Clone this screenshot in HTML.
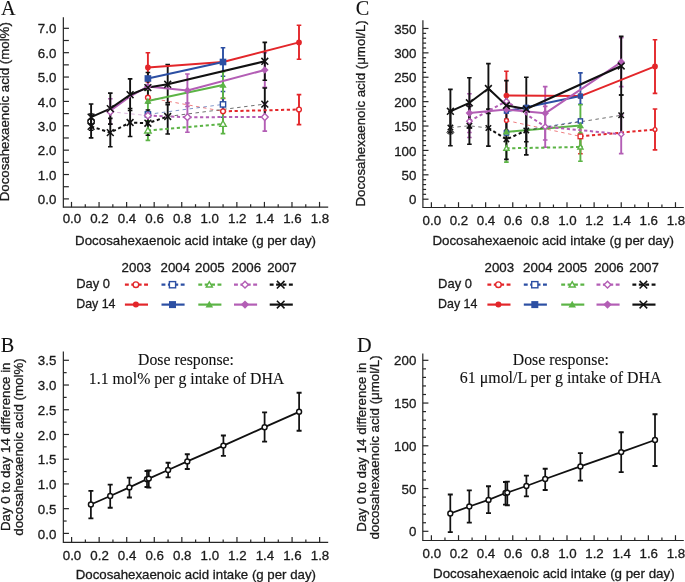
<!DOCTYPE html>
<html><head><meta charset="utf-8"><style>html,body{margin:0;padding:0;background:#fff;}svg{display:block;will-change:transform;}</style></head><body>
<svg width="685" height="582" viewBox="0 0 685 582">
<rect width="685" height="582" fill="#fff"/>
<line x1="63.35" y1="207.20" x2="328.20" y2="207.20" stroke="#262626" stroke-width="1.2" />
<line x1="71.50" y1="207.20" x2="71.50" y2="201.90" stroke="#262626" stroke-width="1.2" />
<line x1="85.28" y1="207.20" x2="85.28" y2="204.20" stroke="#262626" stroke-width="1.2" />
<line x1="99.06" y1="207.20" x2="99.06" y2="201.90" stroke="#262626" stroke-width="1.2" />
<line x1="112.84" y1="207.20" x2="112.84" y2="204.20" stroke="#262626" stroke-width="1.2" />
<line x1="126.62" y1="207.20" x2="126.62" y2="201.90" stroke="#262626" stroke-width="1.2" />
<line x1="140.40" y1="207.20" x2="140.40" y2="204.20" stroke="#262626" stroke-width="1.2" />
<line x1="154.18" y1="207.20" x2="154.18" y2="201.90" stroke="#262626" stroke-width="1.2" />
<line x1="167.96" y1="207.20" x2="167.96" y2="204.20" stroke="#262626" stroke-width="1.2" />
<line x1="181.74" y1="207.20" x2="181.74" y2="201.90" stroke="#262626" stroke-width="1.2" />
<line x1="195.52" y1="207.20" x2="195.52" y2="204.20" stroke="#262626" stroke-width="1.2" />
<line x1="209.30" y1="207.20" x2="209.30" y2="201.90" stroke="#262626" stroke-width="1.2" />
<line x1="223.08" y1="207.20" x2="223.08" y2="204.20" stroke="#262626" stroke-width="1.2" />
<line x1="236.86" y1="207.20" x2="236.86" y2="201.90" stroke="#262626" stroke-width="1.2" />
<line x1="250.64" y1="207.20" x2="250.64" y2="204.20" stroke="#262626" stroke-width="1.2" />
<line x1="264.42" y1="207.20" x2="264.42" y2="201.90" stroke="#262626" stroke-width="1.2" />
<line x1="278.20" y1="207.20" x2="278.20" y2="204.20" stroke="#262626" stroke-width="1.2" />
<line x1="291.98" y1="207.20" x2="291.98" y2="201.90" stroke="#262626" stroke-width="1.2" />
<line x1="305.76" y1="207.20" x2="305.76" y2="204.20" stroke="#262626" stroke-width="1.2" />
<line x1="319.54" y1="207.20" x2="319.54" y2="201.90" stroke="#262626" stroke-width="1.2" />
<text x="71.90" y="223.10" font-size="13.3" font-family="Liberation Sans, sans-serif" text-anchor="middle" fill="#1a1a1a" stroke="#1a1a1a" stroke-width="0.3" >0.0</text>
<text x="99.46" y="223.10" font-size="13.3" font-family="Liberation Sans, sans-serif" text-anchor="middle" fill="#1a1a1a" stroke="#1a1a1a" stroke-width="0.3" >0.2</text>
<text x="127.02" y="223.10" font-size="13.3" font-family="Liberation Sans, sans-serif" text-anchor="middle" fill="#1a1a1a" stroke="#1a1a1a" stroke-width="0.3" >0.4</text>
<text x="154.58" y="223.10" font-size="13.3" font-family="Liberation Sans, sans-serif" text-anchor="middle" fill="#1a1a1a" stroke="#1a1a1a" stroke-width="0.3" >0.6</text>
<text x="182.14" y="223.10" font-size="13.3" font-family="Liberation Sans, sans-serif" text-anchor="middle" fill="#1a1a1a" stroke="#1a1a1a" stroke-width="0.3" >0.8</text>
<text x="209.70" y="223.10" font-size="13.3" font-family="Liberation Sans, sans-serif" text-anchor="middle" fill="#1a1a1a" stroke="#1a1a1a" stroke-width="0.3" >1.0</text>
<text x="237.26" y="223.10" font-size="13.3" font-family="Liberation Sans, sans-serif" text-anchor="middle" fill="#1a1a1a" stroke="#1a1a1a" stroke-width="0.3" >1.2</text>
<text x="264.82" y="223.10" font-size="13.3" font-family="Liberation Sans, sans-serif" text-anchor="middle" fill="#1a1a1a" stroke="#1a1a1a" stroke-width="0.3" >1.4</text>
<text x="292.38" y="223.10" font-size="13.3" font-family="Liberation Sans, sans-serif" text-anchor="middle" fill="#1a1a1a" stroke="#1a1a1a" stroke-width="0.3" >1.6</text>
<text x="319.94" y="223.10" font-size="13.3" font-family="Liberation Sans, sans-serif" text-anchor="middle" fill="#1a1a1a" stroke="#1a1a1a" stroke-width="0.3" >1.8</text>
<line x1="63.35" y1="17.20" x2="63.35" y2="207.80" stroke="#262626" stroke-width="1.2" />
<line x1="63.35" y1="186.72" x2="68.85" y2="186.72" stroke="#262626" stroke-width="1.2" />
<line x1="63.35" y1="162.34" x2="68.85" y2="162.34" stroke="#262626" stroke-width="1.2" />
<line x1="63.35" y1="137.97" x2="68.85" y2="137.97" stroke="#262626" stroke-width="1.2" />
<line x1="63.35" y1="113.61" x2="68.85" y2="113.61" stroke="#262626" stroke-width="1.2" />
<line x1="63.35" y1="89.23" x2="68.85" y2="89.23" stroke="#262626" stroke-width="1.2" />
<line x1="63.35" y1="64.87" x2="68.85" y2="64.87" stroke="#262626" stroke-width="1.2" />
<line x1="63.35" y1="40.50" x2="68.85" y2="40.50" stroke="#262626" stroke-width="1.2" />
<line x1="63.35" y1="198.90" x2="68.95" y2="198.90" stroke="#262626" stroke-width="1.2" />
<text x="56.35" y="204.00" font-size="13.3" font-family="Liberation Sans, sans-serif" text-anchor="end" fill="#1a1a1a" stroke="#1a1a1a" stroke-width="0.3" >0.0</text>
<line x1="63.35" y1="174.53" x2="68.95" y2="174.53" stroke="#262626" stroke-width="1.2" />
<text x="56.35" y="179.63" font-size="13.3" font-family="Liberation Sans, sans-serif" text-anchor="end" fill="#1a1a1a" stroke="#1a1a1a" stroke-width="0.3" >1.0</text>
<line x1="63.35" y1="150.16" x2="68.95" y2="150.16" stroke="#262626" stroke-width="1.2" />
<text x="56.35" y="155.26" font-size="13.3" font-family="Liberation Sans, sans-serif" text-anchor="end" fill="#1a1a1a" stroke="#1a1a1a" stroke-width="0.3" >2.0</text>
<line x1="63.35" y1="125.79" x2="68.95" y2="125.79" stroke="#262626" stroke-width="1.2" />
<text x="56.35" y="130.89" font-size="13.3" font-family="Liberation Sans, sans-serif" text-anchor="end" fill="#1a1a1a" stroke="#1a1a1a" stroke-width="0.3" >3.0</text>
<line x1="63.35" y1="101.42" x2="68.95" y2="101.42" stroke="#262626" stroke-width="1.2" />
<text x="56.35" y="106.52" font-size="13.3" font-family="Liberation Sans, sans-serif" text-anchor="end" fill="#1a1a1a" stroke="#1a1a1a" stroke-width="0.3" >4.0</text>
<line x1="63.35" y1="77.05" x2="68.95" y2="77.05" stroke="#262626" stroke-width="1.2" />
<text x="56.35" y="82.15" font-size="13.3" font-family="Liberation Sans, sans-serif" text-anchor="end" fill="#1a1a1a" stroke="#1a1a1a" stroke-width="0.3" >5.0</text>
<line x1="63.35" y1="52.68" x2="68.95" y2="52.68" stroke="#262626" stroke-width="1.2" />
<text x="56.35" y="57.78" font-size="13.3" font-family="Liberation Sans, sans-serif" text-anchor="end" fill="#1a1a1a" stroke="#1a1a1a" stroke-width="0.3" >6.0</text>
<line x1="63.35" y1="28.31" x2="68.95" y2="28.31" stroke="#262626" stroke-width="1.2" />
<text x="56.35" y="33.41" font-size="13.3" font-family="Liberation Sans, sans-serif" text-anchor="end" fill="#1a1a1a" stroke="#1a1a1a" stroke-width="0.3" >7.0</text>
<line x1="422.90" y1="207.50" x2="683.80" y2="207.50" stroke="#262626" stroke-width="1.2" />
<line x1="431.40" y1="207.50" x2="431.40" y2="202.20" stroke="#262626" stroke-width="1.2" />
<line x1="444.96" y1="207.50" x2="444.96" y2="204.50" stroke="#262626" stroke-width="1.2" />
<line x1="458.52" y1="207.50" x2="458.52" y2="202.20" stroke="#262626" stroke-width="1.2" />
<line x1="472.08" y1="207.50" x2="472.08" y2="204.50" stroke="#262626" stroke-width="1.2" />
<line x1="485.64" y1="207.50" x2="485.64" y2="202.20" stroke="#262626" stroke-width="1.2" />
<line x1="499.20" y1="207.50" x2="499.20" y2="204.50" stroke="#262626" stroke-width="1.2" />
<line x1="512.76" y1="207.50" x2="512.76" y2="202.20" stroke="#262626" stroke-width="1.2" />
<line x1="526.32" y1="207.50" x2="526.32" y2="204.50" stroke="#262626" stroke-width="1.2" />
<line x1="539.88" y1="207.50" x2="539.88" y2="202.20" stroke="#262626" stroke-width="1.2" />
<line x1="553.44" y1="207.50" x2="553.44" y2="204.50" stroke="#262626" stroke-width="1.2" />
<line x1="567.00" y1="207.50" x2="567.00" y2="202.20" stroke="#262626" stroke-width="1.2" />
<line x1="580.56" y1="207.50" x2="580.56" y2="204.50" stroke="#262626" stroke-width="1.2" />
<line x1="594.12" y1="207.50" x2="594.12" y2="202.20" stroke="#262626" stroke-width="1.2" />
<line x1="607.68" y1="207.50" x2="607.68" y2="204.50" stroke="#262626" stroke-width="1.2" />
<line x1="621.24" y1="207.50" x2="621.24" y2="202.20" stroke="#262626" stroke-width="1.2" />
<line x1="634.80" y1="207.50" x2="634.80" y2="204.50" stroke="#262626" stroke-width="1.2" />
<line x1="648.36" y1="207.50" x2="648.36" y2="202.20" stroke="#262626" stroke-width="1.2" />
<line x1="661.92" y1="207.50" x2="661.92" y2="204.50" stroke="#262626" stroke-width="1.2" />
<line x1="675.48" y1="207.50" x2="675.48" y2="202.20" stroke="#262626" stroke-width="1.2" />
<text x="431.80" y="224.50" font-size="13.3" font-family="Liberation Sans, sans-serif" text-anchor="middle" fill="#1a1a1a" stroke="#1a1a1a" stroke-width="0.3" >0.0</text>
<text x="458.92" y="224.50" font-size="13.3" font-family="Liberation Sans, sans-serif" text-anchor="middle" fill="#1a1a1a" stroke="#1a1a1a" stroke-width="0.3" >0.2</text>
<text x="486.04" y="224.50" font-size="13.3" font-family="Liberation Sans, sans-serif" text-anchor="middle" fill="#1a1a1a" stroke="#1a1a1a" stroke-width="0.3" >0.4</text>
<text x="513.16" y="224.50" font-size="13.3" font-family="Liberation Sans, sans-serif" text-anchor="middle" fill="#1a1a1a" stroke="#1a1a1a" stroke-width="0.3" >0.6</text>
<text x="540.28" y="224.50" font-size="13.3" font-family="Liberation Sans, sans-serif" text-anchor="middle" fill="#1a1a1a" stroke="#1a1a1a" stroke-width="0.3" >0.8</text>
<text x="567.40" y="224.50" font-size="13.3" font-family="Liberation Sans, sans-serif" text-anchor="middle" fill="#1a1a1a" stroke="#1a1a1a" stroke-width="0.3" >1.0</text>
<text x="594.52" y="224.50" font-size="13.3" font-family="Liberation Sans, sans-serif" text-anchor="middle" fill="#1a1a1a" stroke="#1a1a1a" stroke-width="0.3" >1.2</text>
<text x="621.64" y="224.50" font-size="13.3" font-family="Liberation Sans, sans-serif" text-anchor="middle" fill="#1a1a1a" stroke="#1a1a1a" stroke-width="0.3" >1.4</text>
<text x="648.76" y="224.50" font-size="13.3" font-family="Liberation Sans, sans-serif" text-anchor="middle" fill="#1a1a1a" stroke="#1a1a1a" stroke-width="0.3" >1.6</text>
<text x="675.88" y="224.50" font-size="13.3" font-family="Liberation Sans, sans-serif" text-anchor="middle" fill="#1a1a1a" stroke="#1a1a1a" stroke-width="0.3" >1.8</text>
<line x1="422.90" y1="20.30" x2="422.90" y2="208.10" stroke="#262626" stroke-width="1.2" />
<line x1="422.90" y1="194.32" x2="426.10" y2="194.32" stroke="#262626" stroke-width="1.2" />
<line x1="422.90" y1="189.44" x2="426.10" y2="189.44" stroke="#262626" stroke-width="1.2" />
<line x1="422.90" y1="184.57" x2="426.10" y2="184.57" stroke="#262626" stroke-width="1.2" />
<line x1="422.90" y1="179.69" x2="426.10" y2="179.69" stroke="#262626" stroke-width="1.2" />
<line x1="422.90" y1="169.93" x2="426.10" y2="169.93" stroke="#262626" stroke-width="1.2" />
<line x1="422.90" y1="165.05" x2="426.10" y2="165.05" stroke="#262626" stroke-width="1.2" />
<line x1="422.90" y1="160.18" x2="426.10" y2="160.18" stroke="#262626" stroke-width="1.2" />
<line x1="422.90" y1="155.30" x2="426.10" y2="155.30" stroke="#262626" stroke-width="1.2" />
<line x1="422.90" y1="145.54" x2="426.10" y2="145.54" stroke="#262626" stroke-width="1.2" />
<line x1="422.90" y1="140.66" x2="426.10" y2="140.66" stroke="#262626" stroke-width="1.2" />
<line x1="422.90" y1="135.79" x2="426.10" y2="135.79" stroke="#262626" stroke-width="1.2" />
<line x1="422.90" y1="130.91" x2="426.10" y2="130.91" stroke="#262626" stroke-width="1.2" />
<line x1="422.90" y1="121.15" x2="426.10" y2="121.15" stroke="#262626" stroke-width="1.2" />
<line x1="422.90" y1="116.27" x2="426.10" y2="116.27" stroke="#262626" stroke-width="1.2" />
<line x1="422.90" y1="111.40" x2="426.10" y2="111.40" stroke="#262626" stroke-width="1.2" />
<line x1="422.90" y1="106.52" x2="426.10" y2="106.52" stroke="#262626" stroke-width="1.2" />
<line x1="422.90" y1="96.76" x2="426.10" y2="96.76" stroke="#262626" stroke-width="1.2" />
<line x1="422.90" y1="91.88" x2="426.10" y2="91.88" stroke="#262626" stroke-width="1.2" />
<line x1="422.90" y1="87.01" x2="426.10" y2="87.01" stroke="#262626" stroke-width="1.2" />
<line x1="422.90" y1="82.13" x2="426.10" y2="82.13" stroke="#262626" stroke-width="1.2" />
<line x1="422.90" y1="72.37" x2="426.10" y2="72.37" stroke="#262626" stroke-width="1.2" />
<line x1="422.90" y1="67.49" x2="426.10" y2="67.49" stroke="#262626" stroke-width="1.2" />
<line x1="422.90" y1="62.62" x2="426.10" y2="62.62" stroke="#262626" stroke-width="1.2" />
<line x1="422.90" y1="57.74" x2="426.10" y2="57.74" stroke="#262626" stroke-width="1.2" />
<line x1="422.90" y1="47.98" x2="426.10" y2="47.98" stroke="#262626" stroke-width="1.2" />
<line x1="422.90" y1="43.10" x2="426.10" y2="43.10" stroke="#262626" stroke-width="1.2" />
<line x1="422.90" y1="38.23" x2="426.10" y2="38.23" stroke="#262626" stroke-width="1.2" />
<line x1="422.90" y1="33.35" x2="426.10" y2="33.35" stroke="#262626" stroke-width="1.2" />
<line x1="422.90" y1="199.20" x2="428.50" y2="199.20" stroke="#262626" stroke-width="1.2" />
<text x="416.40" y="204.30" font-size="13.3" font-family="Liberation Sans, sans-serif" text-anchor="end" fill="#1a1a1a" stroke="#1a1a1a" stroke-width="0.3" >0</text>
<line x1="422.90" y1="174.81" x2="428.50" y2="174.81" stroke="#262626" stroke-width="1.2" />
<text x="416.40" y="179.91" font-size="13.3" font-family="Liberation Sans, sans-serif" text-anchor="end" fill="#1a1a1a" stroke="#1a1a1a" stroke-width="0.3" >50</text>
<line x1="422.90" y1="150.42" x2="428.50" y2="150.42" stroke="#262626" stroke-width="1.2" />
<text x="416.40" y="155.52" font-size="13.3" font-family="Liberation Sans, sans-serif" text-anchor="end" fill="#1a1a1a" stroke="#1a1a1a" stroke-width="0.3" >100</text>
<line x1="422.90" y1="126.03" x2="428.50" y2="126.03" stroke="#262626" stroke-width="1.2" />
<text x="416.40" y="131.13" font-size="13.3" font-family="Liberation Sans, sans-serif" text-anchor="end" fill="#1a1a1a" stroke="#1a1a1a" stroke-width="0.3" >150</text>
<line x1="422.90" y1="101.64" x2="428.50" y2="101.64" stroke="#262626" stroke-width="1.2" />
<text x="416.40" y="106.74" font-size="13.3" font-family="Liberation Sans, sans-serif" text-anchor="end" fill="#1a1a1a" stroke="#1a1a1a" stroke-width="0.3" >200</text>
<line x1="422.90" y1="77.25" x2="428.50" y2="77.25" stroke="#262626" stroke-width="1.2" />
<text x="416.40" y="82.35" font-size="13.3" font-family="Liberation Sans, sans-serif" text-anchor="end" fill="#1a1a1a" stroke="#1a1a1a" stroke-width="0.3" >250</text>
<line x1="422.90" y1="52.86" x2="428.50" y2="52.86" stroke="#262626" stroke-width="1.2" />
<text x="416.40" y="57.96" font-size="13.3" font-family="Liberation Sans, sans-serif" text-anchor="end" fill="#1a1a1a" stroke="#1a1a1a" stroke-width="0.3" >300</text>
<line x1="422.90" y1="28.47" x2="428.50" y2="28.47" stroke="#262626" stroke-width="1.2" />
<text x="416.40" y="33.57" font-size="13.3" font-family="Liberation Sans, sans-serif" text-anchor="end" fill="#1a1a1a" stroke="#1a1a1a" stroke-width="0.3" >350</text>
<line x1="63.35" y1="542.40" x2="328.20" y2="542.40" stroke="#262626" stroke-width="1.2" />
<line x1="71.60" y1="542.40" x2="71.60" y2="537.10" stroke="#262626" stroke-width="1.2" />
<line x1="85.38" y1="542.40" x2="85.38" y2="539.40" stroke="#262626" stroke-width="1.2" />
<line x1="99.16" y1="542.40" x2="99.16" y2="537.10" stroke="#262626" stroke-width="1.2" />
<line x1="112.94" y1="542.40" x2="112.94" y2="539.40" stroke="#262626" stroke-width="1.2" />
<line x1="126.72" y1="542.40" x2="126.72" y2="537.10" stroke="#262626" stroke-width="1.2" />
<line x1="140.50" y1="542.40" x2="140.50" y2="539.40" stroke="#262626" stroke-width="1.2" />
<line x1="154.28" y1="542.40" x2="154.28" y2="537.10" stroke="#262626" stroke-width="1.2" />
<line x1="168.06" y1="542.40" x2="168.06" y2="539.40" stroke="#262626" stroke-width="1.2" />
<line x1="181.84" y1="542.40" x2="181.84" y2="537.10" stroke="#262626" stroke-width="1.2" />
<line x1="195.62" y1="542.40" x2="195.62" y2="539.40" stroke="#262626" stroke-width="1.2" />
<line x1="209.40" y1="542.40" x2="209.40" y2="537.10" stroke="#262626" stroke-width="1.2" />
<line x1="223.18" y1="542.40" x2="223.18" y2="539.40" stroke="#262626" stroke-width="1.2" />
<line x1="236.96" y1="542.40" x2="236.96" y2="537.10" stroke="#262626" stroke-width="1.2" />
<line x1="250.74" y1="542.40" x2="250.74" y2="539.40" stroke="#262626" stroke-width="1.2" />
<line x1="264.52" y1="542.40" x2="264.52" y2="537.10" stroke="#262626" stroke-width="1.2" />
<line x1="278.30" y1="542.40" x2="278.30" y2="539.40" stroke="#262626" stroke-width="1.2" />
<line x1="292.08" y1="542.40" x2="292.08" y2="537.10" stroke="#262626" stroke-width="1.2" />
<line x1="305.86" y1="542.40" x2="305.86" y2="539.40" stroke="#262626" stroke-width="1.2" />
<line x1="319.64" y1="542.40" x2="319.64" y2="537.10" stroke="#262626" stroke-width="1.2" />
<text x="72.00" y="559.90" font-size="13.3" font-family="Liberation Sans, sans-serif" text-anchor="middle" fill="#1a1a1a" stroke="#1a1a1a" stroke-width="0.3" >0.0</text>
<text x="99.56" y="559.90" font-size="13.3" font-family="Liberation Sans, sans-serif" text-anchor="middle" fill="#1a1a1a" stroke="#1a1a1a" stroke-width="0.3" >0.2</text>
<text x="127.12" y="559.90" font-size="13.3" font-family="Liberation Sans, sans-serif" text-anchor="middle" fill="#1a1a1a" stroke="#1a1a1a" stroke-width="0.3" >0.4</text>
<text x="154.68" y="559.90" font-size="13.3" font-family="Liberation Sans, sans-serif" text-anchor="middle" fill="#1a1a1a" stroke="#1a1a1a" stroke-width="0.3" >0.6</text>
<text x="182.24" y="559.90" font-size="13.3" font-family="Liberation Sans, sans-serif" text-anchor="middle" fill="#1a1a1a" stroke="#1a1a1a" stroke-width="0.3" >0.8</text>
<text x="209.80" y="559.90" font-size="13.3" font-family="Liberation Sans, sans-serif" text-anchor="middle" fill="#1a1a1a" stroke="#1a1a1a" stroke-width="0.3" >1.0</text>
<text x="237.36" y="559.90" font-size="13.3" font-family="Liberation Sans, sans-serif" text-anchor="middle" fill="#1a1a1a" stroke="#1a1a1a" stroke-width="0.3" >1.2</text>
<text x="264.92" y="559.90" font-size="13.3" font-family="Liberation Sans, sans-serif" text-anchor="middle" fill="#1a1a1a" stroke="#1a1a1a" stroke-width="0.3" >1.4</text>
<text x="292.48" y="559.90" font-size="13.3" font-family="Liberation Sans, sans-serif" text-anchor="middle" fill="#1a1a1a" stroke="#1a1a1a" stroke-width="0.3" >1.6</text>
<text x="320.04" y="559.90" font-size="13.3" font-family="Liberation Sans, sans-serif" text-anchor="middle" fill="#1a1a1a" stroke="#1a1a1a" stroke-width="0.3" >1.8</text>
<line x1="63.35" y1="351.60" x2="63.35" y2="543.00" stroke="#262626" stroke-width="1.2" />
<line x1="63.35" y1="521.03" x2="66.65" y2="521.03" stroke="#262626" stroke-width="1.2" />
<line x1="63.35" y1="496.30" x2="66.65" y2="496.30" stroke="#262626" stroke-width="1.2" />
<line x1="63.35" y1="471.57" x2="66.65" y2="471.57" stroke="#262626" stroke-width="1.2" />
<line x1="63.35" y1="446.84" x2="66.65" y2="446.84" stroke="#262626" stroke-width="1.2" />
<line x1="63.35" y1="422.12" x2="66.65" y2="422.12" stroke="#262626" stroke-width="1.2" />
<line x1="63.35" y1="397.38" x2="66.65" y2="397.38" stroke="#262626" stroke-width="1.2" />
<line x1="63.35" y1="372.65" x2="66.65" y2="372.65" stroke="#262626" stroke-width="1.2" />
<line x1="63.35" y1="533.40" x2="68.95" y2="533.40" stroke="#262626" stroke-width="1.2" />
<text x="56.35" y="538.50" font-size="13.3" font-family="Liberation Sans, sans-serif" text-anchor="end" fill="#1a1a1a" stroke="#1a1a1a" stroke-width="0.3" >0.0</text>
<line x1="63.35" y1="508.67" x2="68.95" y2="508.67" stroke="#262626" stroke-width="1.2" />
<text x="56.35" y="513.77" font-size="13.3" font-family="Liberation Sans, sans-serif" text-anchor="end" fill="#1a1a1a" stroke="#1a1a1a" stroke-width="0.3" >0.5</text>
<line x1="63.35" y1="483.94" x2="68.95" y2="483.94" stroke="#262626" stroke-width="1.2" />
<text x="56.35" y="489.04" font-size="13.3" font-family="Liberation Sans, sans-serif" text-anchor="end" fill="#1a1a1a" stroke="#1a1a1a" stroke-width="0.3" >1.0</text>
<line x1="63.35" y1="459.21" x2="68.95" y2="459.21" stroke="#262626" stroke-width="1.2" />
<text x="56.35" y="464.31" font-size="13.3" font-family="Liberation Sans, sans-serif" text-anchor="end" fill="#1a1a1a" stroke="#1a1a1a" stroke-width="0.3" >1.5</text>
<line x1="63.35" y1="434.48" x2="68.95" y2="434.48" stroke="#262626" stroke-width="1.2" />
<text x="56.35" y="439.58" font-size="13.3" font-family="Liberation Sans, sans-serif" text-anchor="end" fill="#1a1a1a" stroke="#1a1a1a" stroke-width="0.3" >2.0</text>
<line x1="63.35" y1="409.75" x2="68.95" y2="409.75" stroke="#262626" stroke-width="1.2" />
<text x="56.35" y="414.85" font-size="13.3" font-family="Liberation Sans, sans-serif" text-anchor="end" fill="#1a1a1a" stroke="#1a1a1a" stroke-width="0.3" >2.5</text>
<line x1="63.35" y1="385.02" x2="68.95" y2="385.02" stroke="#262626" stroke-width="1.2" />
<text x="56.35" y="390.12" font-size="13.3" font-family="Liberation Sans, sans-serif" text-anchor="end" fill="#1a1a1a" stroke="#1a1a1a" stroke-width="0.3" >3.0</text>
<line x1="63.35" y1="360.29" x2="68.95" y2="360.29" stroke="#262626" stroke-width="1.2" />
<text x="56.35" y="365.39" font-size="13.3" font-family="Liberation Sans, sans-serif" text-anchor="end" fill="#1a1a1a" stroke="#1a1a1a" stroke-width="0.3" >3.5</text>
<line x1="422.80" y1="540.50" x2="683.80" y2="540.50" stroke="#262626" stroke-width="1.2" />
<line x1="431.40" y1="540.50" x2="431.40" y2="535.20" stroke="#262626" stroke-width="1.2" />
<line x1="444.96" y1="540.50" x2="444.96" y2="537.50" stroke="#262626" stroke-width="1.2" />
<line x1="458.52" y1="540.50" x2="458.52" y2="535.20" stroke="#262626" stroke-width="1.2" />
<line x1="472.08" y1="540.50" x2="472.08" y2="537.50" stroke="#262626" stroke-width="1.2" />
<line x1="485.64" y1="540.50" x2="485.64" y2="535.20" stroke="#262626" stroke-width="1.2" />
<line x1="499.20" y1="540.50" x2="499.20" y2="537.50" stroke="#262626" stroke-width="1.2" />
<line x1="512.76" y1="540.50" x2="512.76" y2="535.20" stroke="#262626" stroke-width="1.2" />
<line x1="526.32" y1="540.50" x2="526.32" y2="537.50" stroke="#262626" stroke-width="1.2" />
<line x1="539.88" y1="540.50" x2="539.88" y2="535.20" stroke="#262626" stroke-width="1.2" />
<line x1="553.44" y1="540.50" x2="553.44" y2="537.50" stroke="#262626" stroke-width="1.2" />
<line x1="567.00" y1="540.50" x2="567.00" y2="535.20" stroke="#262626" stroke-width="1.2" />
<line x1="580.56" y1="540.50" x2="580.56" y2="537.50" stroke="#262626" stroke-width="1.2" />
<line x1="594.12" y1="540.50" x2="594.12" y2="535.20" stroke="#262626" stroke-width="1.2" />
<line x1="607.68" y1="540.50" x2="607.68" y2="537.50" stroke="#262626" stroke-width="1.2" />
<line x1="621.24" y1="540.50" x2="621.24" y2="535.20" stroke="#262626" stroke-width="1.2" />
<line x1="634.80" y1="540.50" x2="634.80" y2="537.50" stroke="#262626" stroke-width="1.2" />
<line x1="648.36" y1="540.50" x2="648.36" y2="535.20" stroke="#262626" stroke-width="1.2" />
<line x1="661.92" y1="540.50" x2="661.92" y2="537.50" stroke="#262626" stroke-width="1.2" />
<line x1="675.48" y1="540.50" x2="675.48" y2="535.20" stroke="#262626" stroke-width="1.2" />
<text x="431.80" y="558.20" font-size="13.3" font-family="Liberation Sans, sans-serif" text-anchor="middle" fill="#1a1a1a" stroke="#1a1a1a" stroke-width="0.3" >0.0</text>
<text x="458.92" y="558.20" font-size="13.3" font-family="Liberation Sans, sans-serif" text-anchor="middle" fill="#1a1a1a" stroke="#1a1a1a" stroke-width="0.3" >0.2</text>
<text x="486.04" y="558.20" font-size="13.3" font-family="Liberation Sans, sans-serif" text-anchor="middle" fill="#1a1a1a" stroke="#1a1a1a" stroke-width="0.3" >0.4</text>
<text x="513.16" y="558.20" font-size="13.3" font-family="Liberation Sans, sans-serif" text-anchor="middle" fill="#1a1a1a" stroke="#1a1a1a" stroke-width="0.3" >0.6</text>
<text x="540.28" y="558.20" font-size="13.3" font-family="Liberation Sans, sans-serif" text-anchor="middle" fill="#1a1a1a" stroke="#1a1a1a" stroke-width="0.3" >0.8</text>
<text x="567.40" y="558.20" font-size="13.3" font-family="Liberation Sans, sans-serif" text-anchor="middle" fill="#1a1a1a" stroke="#1a1a1a" stroke-width="0.3" >1.0</text>
<text x="594.52" y="558.20" font-size="13.3" font-family="Liberation Sans, sans-serif" text-anchor="middle" fill="#1a1a1a" stroke="#1a1a1a" stroke-width="0.3" >1.2</text>
<text x="621.64" y="558.20" font-size="13.3" font-family="Liberation Sans, sans-serif" text-anchor="middle" fill="#1a1a1a" stroke="#1a1a1a" stroke-width="0.3" >1.4</text>
<text x="648.76" y="558.20" font-size="13.3" font-family="Liberation Sans, sans-serif" text-anchor="middle" fill="#1a1a1a" stroke="#1a1a1a" stroke-width="0.3" >1.6</text>
<text x="675.88" y="558.20" font-size="13.3" font-family="Liberation Sans, sans-serif" text-anchor="middle" fill="#1a1a1a" stroke="#1a1a1a" stroke-width="0.3" >1.8</text>
<line x1="422.80" y1="353.50" x2="422.80" y2="541.10" stroke="#262626" stroke-width="1.2" />
<line x1="422.80" y1="522.75" x2="426.00" y2="522.75" stroke="#262626" stroke-width="1.2" />
<line x1="422.80" y1="514.20" x2="426.00" y2="514.20" stroke="#262626" stroke-width="1.2" />
<line x1="422.80" y1="505.65" x2="426.00" y2="505.65" stroke="#262626" stroke-width="1.2" />
<line x1="422.80" y1="497.10" x2="426.00" y2="497.10" stroke="#262626" stroke-width="1.2" />
<line x1="422.80" y1="480.00" x2="426.00" y2="480.00" stroke="#262626" stroke-width="1.2" />
<line x1="422.80" y1="471.45" x2="426.00" y2="471.45" stroke="#262626" stroke-width="1.2" />
<line x1="422.80" y1="462.90" x2="426.00" y2="462.90" stroke="#262626" stroke-width="1.2" />
<line x1="422.80" y1="454.35" x2="426.00" y2="454.35" stroke="#262626" stroke-width="1.2" />
<line x1="422.80" y1="437.25" x2="426.00" y2="437.25" stroke="#262626" stroke-width="1.2" />
<line x1="422.80" y1="428.70" x2="426.00" y2="428.70" stroke="#262626" stroke-width="1.2" />
<line x1="422.80" y1="420.15" x2="426.00" y2="420.15" stroke="#262626" stroke-width="1.2" />
<line x1="422.80" y1="411.60" x2="426.00" y2="411.60" stroke="#262626" stroke-width="1.2" />
<line x1="422.80" y1="394.50" x2="426.00" y2="394.50" stroke="#262626" stroke-width="1.2" />
<line x1="422.80" y1="385.95" x2="426.00" y2="385.95" stroke="#262626" stroke-width="1.2" />
<line x1="422.80" y1="377.40" x2="426.00" y2="377.40" stroke="#262626" stroke-width="1.2" />
<line x1="422.80" y1="368.85" x2="426.00" y2="368.85" stroke="#262626" stroke-width="1.2" />
<line x1="422.80" y1="531.30" x2="428.40" y2="531.30" stroke="#262626" stroke-width="1.2" />
<text x="416.30" y="536.40" font-size="13.3" font-family="Liberation Sans, sans-serif" text-anchor="end" fill="#1a1a1a" stroke="#1a1a1a" stroke-width="0.3" >0</text>
<line x1="422.80" y1="488.55" x2="428.40" y2="488.55" stroke="#262626" stroke-width="1.2" />
<text x="416.30" y="493.65" font-size="13.3" font-family="Liberation Sans, sans-serif" text-anchor="end" fill="#1a1a1a" stroke="#1a1a1a" stroke-width="0.3" >50</text>
<line x1="422.80" y1="445.80" x2="428.40" y2="445.80" stroke="#262626" stroke-width="1.2" />
<text x="416.30" y="450.90" font-size="13.3" font-family="Liberation Sans, sans-serif" text-anchor="end" fill="#1a1a1a" stroke="#1a1a1a" stroke-width="0.3" >100</text>
<line x1="422.80" y1="403.05" x2="428.40" y2="403.05" stroke="#262626" stroke-width="1.2" />
<text x="416.30" y="408.15" font-size="13.3" font-family="Liberation Sans, sans-serif" text-anchor="end" fill="#1a1a1a" stroke="#1a1a1a" stroke-width="0.3" >150</text>
<line x1="422.80" y1="360.30" x2="428.40" y2="360.30" stroke="#262626" stroke-width="1.2" />
<text x="416.30" y="365.40" font-size="13.3" font-family="Liberation Sans, sans-serif" text-anchor="end" fill="#1a1a1a" stroke="#1a1a1a" stroke-width="0.3" >200</text>
<text x="1.00" y="14.60" font-size="20.3" font-family="Liberation Serif, serif" text-anchor="start" fill="#111" stroke="#111" stroke-width="0.1" >A</text>
<text x="355.80" y="14.80" font-size="20.3" font-family="Liberation Serif, serif" text-anchor="start" fill="#111" stroke="#111" stroke-width="0.1" >C</text>
<text x="0.80" y="352.00" font-size="20.3" font-family="Liberation Serif, serif" text-anchor="start" fill="#111" stroke="#111" stroke-width="0.1" >B</text>
<text x="357.00" y="352.20" font-size="20.3" font-family="Liberation Serif, serif" text-anchor="start" fill="#111" stroke="#111" stroke-width="0.1" >D</text>
<text transform="translate(9.30,111.70) rotate(-90)" x="0" y="0" font-size="13.3" font-family="Liberation Sans, sans-serif" text-anchor="middle" fill="#1a1a1a" stroke="#1a1a1a" stroke-width="0.3" textLength="179.00" lengthAdjust="spacingAndGlyphs">Docosahexaenoic acid (mol%)</text>
<text transform="translate(365.10,113.40) rotate(-90)" x="0" y="0" font-size="13.3" font-family="Liberation Sans, sans-serif" text-anchor="middle" fill="#1a1a1a" stroke="#1a1a1a" stroke-width="0.3" textLength="186.30" lengthAdjust="spacingAndGlyphs">Docosahexaenoic acid (μmol/L)</text>
<text transform="translate(10.40,446.80) rotate(-90)" x="0" y="0" font-size="13.3" font-family="Liberation Sans, sans-serif" text-anchor="middle" fill="#1a1a1a" stroke="#1a1a1a" stroke-width="0.3" textLength="168.50" lengthAdjust="spacingAndGlyphs">Day 0 to day 14 difference in</text>
<text transform="translate(23.40,447.00) rotate(-90)" x="0" y="0" font-size="13.3" font-family="Liberation Sans, sans-serif" text-anchor="middle" fill="#1a1a1a" stroke="#1a1a1a" stroke-width="0.3" textLength="177.40" lengthAdjust="spacingAndGlyphs">docosahexaenoic acid (mol%)</text>
<text transform="translate(366.40,447.15) rotate(-90)" x="0" y="0" font-size="13.3" font-family="Liberation Sans, sans-serif" text-anchor="middle" fill="#1a1a1a" stroke="#1a1a1a" stroke-width="0.3" textLength="169.10" lengthAdjust="spacingAndGlyphs">Day 0 to day 14 difference in</text>
<text transform="translate(379.00,447.45) rotate(-90)" x="0" y="0" font-size="13.3" font-family="Liberation Sans, sans-serif" text-anchor="middle" fill="#1a1a1a" stroke="#1a1a1a" stroke-width="0.3" textLength="184.10" lengthAdjust="spacingAndGlyphs">docosahexaenoic acid (μmol/L)</text>
<text x="75.10" y="244.50" font-size="13.3" font-family="Liberation Sans, sans-serif" text-anchor="start" fill="#1a1a1a" stroke="#1a1a1a" stroke-width="0.3" textLength="240.90" lengthAdjust="spacingAndGlyphs" >Docosahexaenoic acid intake (g per day)</text>
<text x="432.40" y="245.00" font-size="13.3" font-family="Liberation Sans, sans-serif" text-anchor="start" fill="#1a1a1a" stroke="#1a1a1a" stroke-width="0.3" textLength="241.50" lengthAdjust="spacingAndGlyphs" >Docosahexaenoic acid intake (g per day)</text>
<text x="75.80" y="578.60" font-size="13.3" font-family="Liberation Sans, sans-serif" text-anchor="start" fill="#1a1a1a" stroke="#1a1a1a" stroke-width="0.3" textLength="240.20" lengthAdjust="spacingAndGlyphs" >Docosahexaenoic acid intake (g per day)</text>
<text x="433.00" y="577.50" font-size="13.3" font-family="Liberation Sans, sans-serif" text-anchor="start" fill="#1a1a1a" stroke="#1a1a1a" stroke-width="0.3" textLength="241.60" lengthAdjust="spacingAndGlyphs" >Docosahexaenoic acid intake (g per day)</text>
<text x="76.20" y="288.40" font-size="13.3" font-family="Liberation Sans, sans-serif" text-anchor="start" fill="#1a1a1a" stroke="#1a1a1a" stroke-width="0.3" textLength="33.80" lengthAdjust="spacingAndGlyphs" >Day 0</text>
<text x="76.20" y="308.30" font-size="13.3" font-family="Liberation Sans, sans-serif" text-anchor="start" fill="#1a1a1a" stroke="#1a1a1a" stroke-width="0.3" textLength="39.30" lengthAdjust="spacingAndGlyphs" >Day 14</text>
<text x="121.60" y="271.70" font-size="13.3" font-family="Liberation Sans, sans-serif" text-anchor="start" fill="#1a1a1a" stroke="#1a1a1a" stroke-width="0.3" >2003</text>
<text x="160.50" y="271.70" font-size="13.3" font-family="Liberation Sans, sans-serif" text-anchor="start" fill="#1a1a1a" stroke="#1a1a1a" stroke-width="0.3" >2004</text>
<text x="195.10" y="271.70" font-size="13.3" font-family="Liberation Sans, sans-serif" text-anchor="start" fill="#1a1a1a" stroke="#1a1a1a" stroke-width="0.3" >2005</text>
<text x="231.50" y="271.70" font-size="13.3" font-family="Liberation Sans, sans-serif" text-anchor="start" fill="#1a1a1a" stroke="#1a1a1a" stroke-width="0.3" >2006</text>
<text x="267.20" y="271.70" font-size="13.3" font-family="Liberation Sans, sans-serif" text-anchor="start" fill="#1a1a1a" stroke="#1a1a1a" stroke-width="0.3" >2007</text>
<path d="M124.90,284.7H148.00" stroke="#e3262a" stroke-width="2.2" stroke-dasharray="3.9,2.5" fill="none"/>
<circle cx="135.90" cy="284.70" r="2.80" fill="#fff" stroke="#e3262a" stroke-width="1.4"/>
<path d="M124.90,304.6H148.00" stroke="#e3262a" stroke-width="2.2" fill="none"/>
<circle cx="135.90" cy="304.60" r="3.00" fill="#e3262a"/>
<path d="M161.50,284.7H184.60" stroke="#2c4fa3" stroke-width="2.2" stroke-dasharray="3.9,2.5" fill="none"/>
<rect x="169.40" y="281.60" width="6.20" height="6.20" fill="#fff" stroke="#2c4fa3" stroke-width="1.4"/>
<path d="M161.50,304.6H184.60" stroke="#2c4fa3" stroke-width="2.2" fill="none"/>
<rect x="169.00" y="301.10" width="7.00" height="7.00" fill="#2c4fa3"/>
<path d="M198.30,284.7H221.40" stroke="#5cb446" stroke-width="2.2" stroke-dasharray="3.9,2.5" fill="none"/>
<polygon points="209.30,281.66 212.34,286.98 206.26,286.98" fill="#fff" stroke="#5cb446" stroke-width="1.4"/>
<path d="M198.30,304.6H221.40" stroke="#5cb446" stroke-width="2.2" fill="none"/>
<polygon points="209.30,300.80 213.10,307.45 205.50,307.45" fill="#5cb446"/>
<path d="M234.00,284.7H257.10" stroke="#b35eb5" stroke-width="2.2" stroke-dasharray="3.9,2.5" fill="none"/>
<polygon points="245.00,281.30 248.40,284.70 245.00,288.10 241.60,284.70" fill="#fff" stroke="#b35eb5" stroke-width="1.4"/>
<path d="M234.00,304.6H257.10" stroke="#b35eb5" stroke-width="2.2" fill="none"/>
<polygon points="245.00,300.40 249.20,304.60 245.00,308.80 240.80,304.60" fill="#b35eb5"/>
<path d="M269.70,284.7H292.80" stroke="#111" stroke-width="2.2" stroke-dasharray="3.9,2.5" fill="none"/>
<path d="M276.90,280.90L284.50,288.50M284.50,280.90L276.90,288.50" stroke="#111" stroke-width="1.5" fill="none"/>
<path d="M269.70,304.6H292.80" stroke="#111" stroke-width="2.2" fill="none"/>
<path d="M276.90,300.80L284.50,308.40M284.50,300.80L276.90,308.40" stroke="#111" stroke-width="1.5" fill="none"/>
<text x="438.10" y="288.40" font-size="13.3" font-family="Liberation Sans, sans-serif" text-anchor="start" fill="#1a1a1a" stroke="#1a1a1a" stroke-width="0.3" textLength="33.80" lengthAdjust="spacingAndGlyphs" >Day 0</text>
<text x="438.10" y="308.30" font-size="13.3" font-family="Liberation Sans, sans-serif" text-anchor="start" fill="#1a1a1a" stroke="#1a1a1a" stroke-width="0.3" textLength="39.30" lengthAdjust="spacingAndGlyphs" >Day 14</text>
<text x="484.50" y="271.70" font-size="13.3" font-family="Liberation Sans, sans-serif" text-anchor="start" fill="#1a1a1a" stroke="#1a1a1a" stroke-width="0.3" >2003</text>
<text x="523.10" y="271.70" font-size="13.3" font-family="Liberation Sans, sans-serif" text-anchor="start" fill="#1a1a1a" stroke="#1a1a1a" stroke-width="0.3" >2004</text>
<text x="557.60" y="271.70" font-size="13.3" font-family="Liberation Sans, sans-serif" text-anchor="start" fill="#1a1a1a" stroke="#1a1a1a" stroke-width="0.3" >2005</text>
<text x="594.20" y="271.70" font-size="13.3" font-family="Liberation Sans, sans-serif" text-anchor="start" fill="#1a1a1a" stroke="#1a1a1a" stroke-width="0.3" >2006</text>
<text x="629.30" y="271.70" font-size="13.3" font-family="Liberation Sans, sans-serif" text-anchor="start" fill="#1a1a1a" stroke="#1a1a1a" stroke-width="0.3" >2007</text>
<path d="M487.40,284.7H510.50" stroke="#e3262a" stroke-width="2.2" stroke-dasharray="3.9,2.5" fill="none"/>
<circle cx="498.40" cy="284.70" r="2.80" fill="#fff" stroke="#e3262a" stroke-width="1.4"/>
<path d="M487.40,304.6H510.50" stroke="#e3262a" stroke-width="2.2" fill="none"/>
<circle cx="498.40" cy="304.60" r="3.00" fill="#e3262a"/>
<path d="M523.80,284.7H546.90" stroke="#2c4fa3" stroke-width="2.2" stroke-dasharray="3.9,2.5" fill="none"/>
<rect x="531.70" y="281.60" width="6.20" height="6.20" fill="#fff" stroke="#2c4fa3" stroke-width="1.4"/>
<path d="M523.80,304.6H546.90" stroke="#2c4fa3" stroke-width="2.2" fill="none"/>
<rect x="531.30" y="301.10" width="7.00" height="7.00" fill="#2c4fa3"/>
<path d="M561.20,284.7H584.30" stroke="#5cb446" stroke-width="2.2" stroke-dasharray="3.9,2.5" fill="none"/>
<polygon points="572.20,281.66 575.24,286.98 569.16,286.98" fill="#fff" stroke="#5cb446" stroke-width="1.4"/>
<path d="M561.20,304.6H584.30" stroke="#5cb446" stroke-width="2.2" fill="none"/>
<polygon points="572.20,300.80 576.00,307.45 568.40,307.45" fill="#5cb446"/>
<path d="M596.50,284.7H619.60" stroke="#b35eb5" stroke-width="2.2" stroke-dasharray="3.9,2.5" fill="none"/>
<polygon points="607.50,281.30 610.90,284.70 607.50,288.10 604.10,284.70" fill="#fff" stroke="#b35eb5" stroke-width="1.4"/>
<path d="M596.50,304.6H619.60" stroke="#b35eb5" stroke-width="2.2" fill="none"/>
<polygon points="607.50,300.40 611.70,304.60 607.50,308.80 603.30,304.60" fill="#b35eb5"/>
<path d="M632.40,284.7H655.50" stroke="#111" stroke-width="2.2" stroke-dasharray="3.9,2.5" fill="none"/>
<path d="M639.60,280.90L647.20,288.50M647.20,280.90L639.60,288.50" stroke="#111" stroke-width="1.5" fill="none"/>
<path d="M632.40,304.6H655.50" stroke="#111" stroke-width="2.2" fill="none"/>
<path d="M639.60,300.80L647.20,308.40M647.20,300.80L639.60,308.40" stroke="#111" stroke-width="1.5" fill="none"/>
<path d="M223.00,98.40V124.20" stroke="#e3262a" stroke-width="1.9" fill="none"/><path d="M220.70,98.40H225.30M220.70,124.20H225.30" stroke="#e3262a" stroke-width="1.615" fill="none"/>
<path d="M299.00,94.60V124.60" stroke="#e3262a" stroke-width="1.9" fill="none"/><path d="M296.70,94.60H301.30M296.70,124.60H301.30" stroke="#e3262a" stroke-width="1.615" fill="none"/>
<path d="M147.90,52.70V82.00" stroke="#e3262a" stroke-width="1.9" fill="none"/><path d="M145.60,52.70H150.20M145.60,82.00H150.20" stroke="#e3262a" stroke-width="1.615" fill="none"/>
<path d="M299.00,25.30V59.20" stroke="#e3262a" stroke-width="1.9" fill="none"/><path d="M296.70,25.30H301.30M296.70,59.20H301.30" stroke="#e3262a" stroke-width="1.615" fill="none"/>
<path d="M223.00,91.50V117.30" stroke="#2c4fa3" stroke-width="1.9" fill="none"/><path d="M220.70,91.50H225.30M220.70,117.30H225.30" stroke="#2c4fa3" stroke-width="1.615" fill="none"/>
<path d="M223.00,47.70V76.20" stroke="#2c4fa3" stroke-width="1.9" fill="none"/><path d="M220.70,47.70H225.30M220.70,76.20H225.30" stroke="#2c4fa3" stroke-width="1.615" fill="none"/>
<path d="M147.90,120.80V140.40" stroke="#5cb446" stroke-width="1.9" fill="none"/><path d="M145.60,120.80H150.20M145.60,140.40H150.20" stroke="#5cb446" stroke-width="1.615" fill="none"/>
<path d="M223.00,112.50V133.60" stroke="#5cb446" stroke-width="1.9" fill="none"/><path d="M220.70,112.50H225.30M220.70,133.60H225.30" stroke="#5cb446" stroke-width="1.615" fill="none"/>
<path d="M147.90,90.00V112.00" stroke="#5cb446" stroke-width="1.9" fill="none"/><path d="M145.60,90.00H150.20M145.60,112.00H150.20" stroke="#5cb446" stroke-width="1.615" fill="none"/>
<path d="M223.00,71.70V98.30" stroke="#5cb446" stroke-width="1.9" fill="none"/><path d="M220.70,71.70H225.30M220.70,98.30H225.30" stroke="#5cb446" stroke-width="1.615" fill="none"/>
<path d="M110.30,98.70V124.00" stroke="#b35eb5" stroke-width="1.9" fill="none"/><path d="M108.00,98.70H112.60M108.00,124.00H112.60" stroke="#b35eb5" stroke-width="1.615" fill="none"/>
<path d="M187.40,103.00V132.30" stroke="#b35eb5" stroke-width="1.9" fill="none"/><path d="M185.10,103.00H189.70M185.10,132.30H189.70" stroke="#b35eb5" stroke-width="1.615" fill="none"/>
<path d="M264.80,103.00V131.10" stroke="#b35eb5" stroke-width="1.9" fill="none"/><path d="M262.50,103.00H267.10M262.50,131.10H267.10" stroke="#b35eb5" stroke-width="1.615" fill="none"/>
<path d="M187.40,74.00V106.50" stroke="#b35eb5" stroke-width="1.9" fill="none"/><path d="M185.10,74.00H189.70M185.10,106.50H189.70" stroke="#b35eb5" stroke-width="1.615" fill="none"/>
<path d="M264.80,52.70V87.30" stroke="#b35eb5" stroke-width="1.9" fill="none"/><path d="M262.50,52.70H267.10M262.50,87.30H267.10" stroke="#b35eb5" stroke-width="1.615" fill="none"/>
<path d="M91.10,114.00V137.90" stroke="#111" stroke-width="1.9" fill="none"/><path d="M88.80,114.00H93.40M88.80,137.90H93.40" stroke="#111" stroke-width="1.615" fill="none"/>
<path d="M110.30,118.40V146.80" stroke="#111" stroke-width="1.9" fill="none"/><path d="M108.00,118.40H112.60M108.00,146.80H112.60" stroke="#111" stroke-width="1.615" fill="none"/>
<path d="M130.10,108.50V136.50" stroke="#111" stroke-width="1.9" fill="none"/><path d="M127.80,108.50H132.40M127.80,136.50H132.40" stroke="#111" stroke-width="1.615" fill="none"/>
<path d="M147.90,110.00V135.20" stroke="#111" stroke-width="1.9" fill="none"/><path d="M145.60,110.00H150.20M145.60,135.20H150.20" stroke="#111" stroke-width="1.615" fill="none"/>
<path d="M167.70,104.70V134.00" stroke="#111" stroke-width="1.9" fill="none"/><path d="M165.40,104.70H170.00M165.40,134.00H170.00" stroke="#111" stroke-width="1.615" fill="none"/>
<path d="M264.80,88.00V117.00" stroke="#111" stroke-width="1.9" fill="none"/><path d="M262.50,88.00H267.10M262.50,117.00H267.10" stroke="#111" stroke-width="1.615" fill="none"/>
<path d="M91.10,104.00V130.20" stroke="#111" stroke-width="1.9" fill="none"/><path d="M88.80,104.00H93.40M88.80,130.20H93.40" stroke="#111" stroke-width="1.615" fill="none"/>
<path d="M110.30,93.10V124.10" stroke="#111" stroke-width="1.9" fill="none"/><path d="M108.00,93.10H112.60M108.00,124.10H112.60" stroke="#111" stroke-width="1.615" fill="none"/>
<path d="M130.10,78.90V110.50" stroke="#111" stroke-width="1.9" fill="none"/><path d="M127.80,78.90H132.40M127.80,110.50H132.40" stroke="#111" stroke-width="1.615" fill="none"/>
<path d="M147.90,72.50V102.70" stroke="#111" stroke-width="1.9" fill="none"/><path d="M145.60,72.50H150.20M145.60,102.70H150.20" stroke="#111" stroke-width="1.615" fill="none"/>
<path d="M167.70,64.50V102.90" stroke="#111" stroke-width="1.9" fill="none"/><path d="M165.40,64.50H170.00M165.40,102.90H170.00" stroke="#111" stroke-width="1.615" fill="none"/>
<path d="M264.80,42.40V80.30" stroke="#111" stroke-width="1.9" fill="none"/><path d="M262.50,42.40H267.10M262.50,80.30H267.10" stroke="#111" stroke-width="1.615" fill="none"/>
<polyline points="147.90,97.60 223.00,111.30" fill="none" stroke="#e3262a" stroke-width="1.0" stroke-dasharray="3.5,3.5" stroke-opacity="0.6" stroke-linejoin="round"/>
<polyline points="223.00,111.30 299.00,109.50" fill="none" stroke="#e3262a" stroke-width="2.0" stroke-dasharray="3.2,2.6" stroke-opacity="1.0" stroke-linejoin="round"/>
<polyline points="147.90,67.40 223.00,62.00 299.00,42.40" fill="none" stroke="#e3262a" stroke-width="2.0" stroke-opacity="1.0" stroke-linejoin="round"/>
<polyline points="147.90,114.40 223.00,104.40" fill="none" stroke="#2c4fa3" stroke-width="1.0" stroke-dasharray="3.5,3.5" stroke-opacity="0.6" stroke-linejoin="round"/>
<polyline points="147.90,78.50 223.00,62.00" fill="none" stroke="#2c4fa3" stroke-width="2.0" stroke-opacity="1.0" stroke-linejoin="round"/>
<polyline points="147.90,130.60 223.00,124.00" fill="none" stroke="#5cb446" stroke-width="2.0" stroke-dasharray="3.2,2.6" stroke-opacity="1.0" stroke-linejoin="round"/>
<polyline points="147.90,101.00 223.00,85.00" fill="none" stroke="#5cb446" stroke-width="2.0" stroke-opacity="1.0" stroke-linejoin="round"/>
<polyline points="110.30,111.70 147.90,115.60" fill="none" stroke="#b35eb5" stroke-width="1.0" stroke-dasharray="3.5,3.5" stroke-opacity="0.45" stroke-linejoin="round"/>
<polyline points="147.90,115.60 187.40,117.20 264.80,117.00" fill="none" stroke="#b35eb5" stroke-width="2.0" stroke-dasharray="3.2,2.6" stroke-opacity="1.0" stroke-linejoin="round"/>
<polyline points="110.30,110.80 130.10,96.50 147.90,86.40 187.40,90.50 264.80,70.00" fill="none" stroke="#b35eb5" stroke-width="2.0" stroke-opacity="1.0" stroke-linejoin="round"/>
<polyline points="91.10,126.40 110.30,132.60 130.10,122.50 147.90,123.20 167.70,116.50" fill="none" stroke="#111" stroke-width="2.0" stroke-dasharray="3.2,2.6" stroke-opacity="1.0" stroke-linejoin="round"/>
<polyline points="167.70,116.50 264.80,104.10" fill="none" stroke="#111" stroke-width="1.0" stroke-dasharray="3.5,3.5" stroke-opacity="0.6" stroke-linejoin="round"/>
<polyline points="91.10,117.10 110.30,108.60 130.10,94.70 147.90,87.60 167.70,84.30 264.80,61.30" fill="none" stroke="#111" stroke-width="2.0" stroke-opacity="1.0" stroke-linejoin="round"/>
<circle cx="147.90" cy="97.60" r="2.38" fill="#fff" stroke="#e3262a" stroke-width="1.4"/>
<circle cx="223.00" cy="111.30" r="2.38" fill="#fff" stroke="#e3262a" stroke-width="1.4"/>
<circle cx="299.00" cy="109.50" r="2.38" fill="#fff" stroke="#e3262a" stroke-width="1.4"/>
<circle cx="147.90" cy="67.40" r="2.85" fill="#e3262a"/>
<circle cx="223.00" cy="62.00" r="2.85" fill="#e3262a"/>
<circle cx="299.00" cy="42.40" r="2.85" fill="#e3262a"/>
<rect x="145.27" y="111.77" width="5.27" height="5.27" fill="#fff" stroke="#2c4fa3" stroke-width="1.4"/>
<rect x="220.37" y="101.77" width="5.27" height="5.27" fill="#fff" stroke="#2c4fa3" stroke-width="1.4"/>
<rect x="144.58" y="75.17" width="6.65" height="6.65" fill="#2c4fa3"/>
<rect x="219.68" y="58.67" width="6.65" height="6.65" fill="#2c4fa3"/>
<polygon points="147.90,127.37 151.13,133.02 144.67,133.02" fill="#fff" stroke="#5cb446" stroke-width="1.4"/>
<polygon points="223.00,120.77 226.23,126.42 219.77,126.42" fill="#fff" stroke="#5cb446" stroke-width="1.4"/>
<polygon points="147.90,97.39 151.51,103.71 144.29,103.71" fill="#5cb446"/>
<polygon points="223.00,81.39 226.61,87.71 219.39,87.71" fill="#5cb446"/>
<polygon points="110.30,108.30 113.70,111.70 110.30,115.10 106.90,111.70" fill="#fff" stroke="#b35eb5" stroke-width="1.4"/>
<polygon points="147.90,112.20 151.30,115.60 147.90,119.00 144.50,115.60" fill="#fff" stroke="#b35eb5" stroke-width="1.4"/>
<polygon points="187.40,113.80 190.80,117.20 187.40,120.60 184.00,117.20" fill="#fff" stroke="#b35eb5" stroke-width="1.4"/>
<polygon points="264.80,113.60 268.20,117.00 264.80,120.40 261.40,117.00" fill="#fff" stroke="#b35eb5" stroke-width="1.4"/>
<polygon points="147.90,82.60 151.70,86.40 147.90,90.20 144.10,86.40" fill="#b35eb5"/>
<polygon points="187.40,86.70 191.20,90.50 187.40,94.30 183.60,90.50" fill="#b35eb5"/>
<polygon points="264.80,66.20 268.60,70.00 264.80,73.80 261.00,70.00" fill="#b35eb5"/>
<path d="M87.70,123.00L94.50,129.80M94.50,123.00L87.70,129.80" stroke="#111" stroke-width="1.5" fill="none"/>
<path d="M106.90,129.20L113.70,136.00M113.70,129.20L106.90,136.00" stroke="#111" stroke-width="1.5" fill="none"/>
<path d="M126.70,119.10L133.50,125.90M133.50,119.10L126.70,125.90" stroke="#111" stroke-width="1.5" fill="none"/>
<path d="M144.50,119.80L151.30,126.60M151.30,119.80L144.50,126.60" stroke="#111" stroke-width="1.5" fill="none"/>
<path d="M164.30,113.10L171.10,119.90M171.10,113.10L164.30,119.90" stroke="#111" stroke-width="1.5" fill="none"/>
<path d="M261.40,100.70L268.20,107.50M268.20,100.70L261.40,107.50" stroke="#111" stroke-width="1.5" fill="none"/>
<path d="M87.70,113.70L94.50,120.50M94.50,113.70L87.70,120.50" stroke="#111" stroke-width="1.5" fill="none"/>
<path d="M106.90,105.20L113.70,112.00M113.70,105.20L106.90,112.00" stroke="#111" stroke-width="1.5" fill="none"/>
<path d="M126.70,91.30L133.50,98.10M133.50,91.30L126.70,98.10" stroke="#111" stroke-width="1.5" fill="none"/>
<path d="M144.50,84.20L151.30,91.00M151.30,84.20L144.50,91.00" stroke="#111" stroke-width="1.5" fill="none"/>
<path d="M164.30,80.90L171.10,87.70M171.10,80.90L164.30,87.70" stroke="#111" stroke-width="1.5" fill="none"/>
<path d="M261.40,57.90L268.20,64.70M268.20,57.90L261.40,64.70" stroke="#111" stroke-width="1.5" fill="none"/>
<ellipse cx="91.10" cy="121.5" rx="3.3" ry="2.7" fill="none" stroke="#111" stroke-width="1.3"/>
<path d="M580.40,119.00V153.80" stroke="#e3262a" stroke-width="1.9" fill="none"/><path d="M578.10,119.00H582.70M578.10,153.80H582.70" stroke="#e3262a" stroke-width="1.615" fill="none"/>
<path d="M655.00,109.00V149.90" stroke="#e3262a" stroke-width="1.9" fill="none"/><path d="M652.70,109.00H657.30M652.70,149.90H657.30" stroke="#e3262a" stroke-width="1.615" fill="none"/>
<path d="M506.40,71.20V120.00" stroke="#e3262a" stroke-width="1.9" fill="none"/><path d="M504.10,71.20H508.70M504.10,120.00H508.70" stroke="#e3262a" stroke-width="1.615" fill="none"/>
<path d="M655.00,39.70V93.40" stroke="#e3262a" stroke-width="1.9" fill="none"/><path d="M652.70,39.70H657.30M652.70,93.40H657.30" stroke="#e3262a" stroke-width="1.615" fill="none"/>
<path d="M580.40,72.90V104.30" stroke="#2c4fa3" stroke-width="1.9" fill="none"/><path d="M578.10,72.90H582.70M578.10,104.30H582.70" stroke="#2c4fa3" stroke-width="1.615" fill="none"/>
<path d="M506.40,134.50V162.10" stroke="#5cb446" stroke-width="1.9" fill="none"/><path d="M504.10,134.50H508.70M504.10,162.10H508.70" stroke="#5cb446" stroke-width="1.615" fill="none"/>
<path d="M580.40,133.00V161.30" stroke="#5cb446" stroke-width="1.9" fill="none"/><path d="M578.10,133.00H582.70M578.10,161.30H582.70" stroke="#5cb446" stroke-width="1.615" fill="none"/>
<path d="M580.40,104.70V146.50" stroke="#5cb446" stroke-width="1.9" fill="none"/><path d="M578.10,104.70H582.70M578.10,146.50H582.70" stroke="#5cb446" stroke-width="1.615" fill="none"/>
<path d="M469.40,105.00V137.50" stroke="#b35eb5" stroke-width="1.9" fill="none"/><path d="M467.10,105.00H471.70M467.10,137.50H471.70" stroke="#b35eb5" stroke-width="1.615" fill="none"/>
<path d="M545.20,106.40V147.30" stroke="#b35eb5" stroke-width="1.9" fill="none"/><path d="M542.90,106.40H547.50M542.90,147.30H547.50" stroke="#b35eb5" stroke-width="1.615" fill="none"/>
<path d="M621.20,115.00V153.60" stroke="#b35eb5" stroke-width="1.9" fill="none"/><path d="M618.90,115.00H623.50M618.90,153.60H623.50" stroke="#b35eb5" stroke-width="1.615" fill="none"/>
<path d="M469.40,93.70V132.50" stroke="#b35eb5" stroke-width="1.9" fill="none"/><path d="M467.10,93.70H471.70M467.10,132.50H471.70" stroke="#b35eb5" stroke-width="1.615" fill="none"/>
<path d="M545.20,86.60V140.00" stroke="#b35eb5" stroke-width="1.9" fill="none"/><path d="M542.90,86.60H547.50M542.90,140.00H547.50" stroke="#b35eb5" stroke-width="1.615" fill="none"/>
<path d="M621.20,37.60V86.60" stroke="#b35eb5" stroke-width="1.9" fill="none"/><path d="M618.90,37.60H623.50M618.90,86.60H623.50" stroke="#b35eb5" stroke-width="1.615" fill="none"/>
<path d="M450.40,111.30V145.70" stroke="#111" stroke-width="1.9" fill="none"/><path d="M448.10,111.30H452.70M448.10,145.70H452.70" stroke="#111" stroke-width="1.615" fill="none"/>
<path d="M469.40,106.50V144.30" stroke="#111" stroke-width="1.9" fill="none"/><path d="M467.10,106.50H471.70M467.10,144.30H471.70" stroke="#111" stroke-width="1.615" fill="none"/>
<path d="M488.40,109.10V146.10" stroke="#111" stroke-width="1.9" fill="none"/><path d="M486.10,109.10H490.70M486.10,146.10H490.70" stroke="#111" stroke-width="1.615" fill="none"/>
<path d="M506.40,119.40V159.40" stroke="#111" stroke-width="1.9" fill="none"/><path d="M504.10,119.40H508.70M504.10,159.40H508.70" stroke="#111" stroke-width="1.615" fill="none"/>
<path d="M526.30,106.00V154.90" stroke="#111" stroke-width="1.9" fill="none"/><path d="M524.00,106.00H528.60M524.00,154.90H528.60" stroke="#111" stroke-width="1.615" fill="none"/>
<path d="M621.20,95.00V133.00" stroke="#111" stroke-width="1.9" fill="none"/><path d="M618.90,95.00H623.50M618.90,133.00H623.50" stroke="#111" stroke-width="1.615" fill="none"/>
<path d="M450.40,89.40V132.20" stroke="#111" stroke-width="1.9" fill="none"/><path d="M448.10,89.40H452.70M448.10,132.20H452.70" stroke="#111" stroke-width="1.615" fill="none"/>
<path d="M469.40,77.70V127.90" stroke="#111" stroke-width="1.9" fill="none"/><path d="M467.10,77.70H471.70M467.10,127.90H471.70" stroke="#111" stroke-width="1.615" fill="none"/>
<path d="M488.40,63.60V113.40" stroke="#111" stroke-width="1.9" fill="none"/><path d="M486.10,63.60H490.70M486.10,113.40H490.70" stroke="#111" stroke-width="1.615" fill="none"/>
<path d="M506.40,80.60V130.40" stroke="#111" stroke-width="1.9" fill="none"/><path d="M504.10,80.60H508.70M504.10,130.40H508.70" stroke="#111" stroke-width="1.615" fill="none"/>
<path d="M526.30,77.20V141.70" stroke="#111" stroke-width="1.9" fill="none"/><path d="M524.00,77.20H528.60M524.00,141.70H528.60" stroke="#111" stroke-width="1.615" fill="none"/>
<path d="M621.20,36.40V95.00" stroke="#111" stroke-width="1.9" fill="none"/><path d="M618.90,36.40H623.50M618.90,95.00H623.50" stroke="#111" stroke-width="1.615" fill="none"/>
<polyline points="506.40,120.50 580.40,136.40" fill="none" stroke="#e3262a" stroke-width="1.0" stroke-dasharray="3.5,3.5" stroke-opacity="0.6" stroke-linejoin="round"/>
<polyline points="580.40,136.40 655.00,129.50" fill="none" stroke="#e3262a" stroke-width="2.0" stroke-dasharray="3.2,2.6" stroke-opacity="1.0" stroke-linejoin="round"/>
<polyline points="506.40,95.60 580.40,96.10 655.00,66.40" fill="none" stroke="#e3262a" stroke-width="2.0" stroke-opacity="1.0" stroke-linejoin="round"/>
<polyline points="506.40,133.00 580.40,121.00" fill="none" stroke="#2c4fa3" stroke-width="1.0" stroke-dasharray="3.5,3.5" stroke-opacity="0.6" stroke-linejoin="round"/>
<polyline points="506.40,111.20 526.30,107.30 580.40,96.10" fill="none" stroke="#2c4fa3" stroke-width="2.0" stroke-opacity="1.0" stroke-linejoin="round"/>
<polyline points="506.40,148.30 580.40,147.00" fill="none" stroke="#5cb446" stroke-width="2.0" stroke-dasharray="3.2,2.6" stroke-opacity="1.0" stroke-linejoin="round"/>
<polyline points="506.40,131.80 580.40,125.60" fill="none" stroke="#5cb446" stroke-width="2.0" stroke-opacity="1.0" stroke-linejoin="round"/>
<polyline points="469.40,121.20 506.40,101.20 545.20,126.70 621.20,134.20" fill="none" stroke="#b35eb5" stroke-width="2.0" stroke-dasharray="3.2,2.6" stroke-opacity="1.0" stroke-linejoin="round"/>
<polyline points="469.40,113.10 506.40,109.50 545.20,113.30 621.20,62.10" fill="none" stroke="#b35eb5" stroke-width="2.0" stroke-opacity="1.0" stroke-linejoin="round"/>
<polyline points="450.40,127.60 469.40,125.80 488.40,128.00" fill="none" stroke="#111" stroke-width="1.0" stroke-dasharray="3.5,3.5" stroke-opacity="0.6" stroke-linejoin="round"/>
<polyline points="488.40,128.00 506.40,139.40 526.30,130.40" fill="none" stroke="#111" stroke-width="2.0" stroke-dasharray="3.2,2.6" stroke-opacity="1.0" stroke-linejoin="round"/>
<polyline points="526.30,130.40 621.20,115.30" fill="none" stroke="#111" stroke-width="1.0" stroke-dasharray="3.5,3.5" stroke-opacity="0.6" stroke-linejoin="round"/>
<polyline points="450.40,111.30 469.40,102.80 488.40,88.50 506.40,105.50 526.30,109.00 621.20,66.00" fill="none" stroke="#111" stroke-width="2.0" stroke-opacity="1.0" stroke-linejoin="round"/>
<circle cx="506.40" cy="120.50" r="1.90" fill="#fff" stroke="#e3262a" stroke-width="1.4"/>
<circle cx="655.00" cy="129.50" r="1.90" fill="#fff" stroke="#e3262a" stroke-width="1.4"/>
<circle cx="506.40" cy="95.60" r="2.85" fill="#e3262a"/>
<circle cx="580.40" cy="96.10" r="2.85" fill="#e3262a"/>
<circle cx="655.00" cy="66.40" r="2.85" fill="#e3262a"/>
<rect x="504.29" y="130.89" width="4.22" height="4.22" fill="#fff" stroke="#2c4fa3" stroke-width="1.4"/>
<rect x="578.29" y="118.89" width="4.22" height="4.22" fill="#fff" stroke="#2c4fa3" stroke-width="1.4"/>
<rect x="503.74" y="108.54" width="5.32" height="5.32" fill="#2c4fa3"/>
<rect x="523.64" y="104.64" width="5.32" height="5.32" fill="#2c4fa3"/>
<rect x="577.74" y="93.44" width="5.32" height="5.32" fill="#2c4fa3"/>
<polygon points="506.40,145.72 508.98,150.24 503.82,150.24" fill="#fff" stroke="#5cb446" stroke-width="1.4"/>
<polygon points="580.40,144.42 582.98,148.94 577.82,148.94" fill="#fff" stroke="#5cb446" stroke-width="1.4"/>
<polygon points="506.40,128.19 510.01,134.51 502.79,134.51" fill="#5cb446"/>
<polygon points="580.40,121.99 584.01,128.31 576.79,128.31" fill="#5cb446"/>
<polygon points="469.40,118.48 472.12,121.20 469.40,123.92 466.68,121.20" fill="#fff" stroke="#b35eb5" stroke-width="1.4"/>
<polygon points="506.40,98.48 509.12,101.20 506.40,103.92 503.68,101.20" fill="#fff" stroke="#b35eb5" stroke-width="1.4"/>
<polygon points="545.20,123.98 547.92,126.70 545.20,129.42 542.48,126.70" fill="#fff" stroke="#b35eb5" stroke-width="1.4"/>
<polygon points="621.20,131.48 623.92,134.20 621.20,136.92 618.48,134.20" fill="#fff" stroke="#b35eb5" stroke-width="1.4"/>
<polygon points="469.40,109.30 473.20,113.10 469.40,116.90 465.60,113.10" fill="#b35eb5"/>
<polygon points="506.40,105.70 510.20,109.50 506.40,113.30 502.60,109.50" fill="#b35eb5"/>
<polygon points="545.20,109.50 549.00,113.30 545.20,117.10 541.40,113.30" fill="#b35eb5"/>
<polygon points="621.20,58.30 625.00,62.10 621.20,65.90 617.40,62.10" fill="#b35eb5"/>
<path d="M447.68,124.88L453.12,130.32M453.12,124.88L447.68,130.32" stroke="#111" stroke-width="1.5" fill="none"/>
<path d="M466.68,123.08L472.12,128.52M472.12,123.08L466.68,128.52" stroke="#111" stroke-width="1.5" fill="none"/>
<path d="M485.68,125.28L491.12,130.72M491.12,125.28L485.68,130.72" stroke="#111" stroke-width="1.5" fill="none"/>
<path d="M503.68,136.68L509.12,142.12M509.12,136.68L503.68,142.12" stroke="#111" stroke-width="1.5" fill="none"/>
<path d="M523.58,127.68L529.02,133.12M529.02,127.68L523.58,133.12" stroke="#111" stroke-width="1.5" fill="none"/>
<path d="M618.48,112.58L623.92,118.02M623.92,112.58L618.48,118.02" stroke="#111" stroke-width="1.5" fill="none"/>
<path d="M447.00,107.90L453.80,114.70M453.80,107.90L447.00,114.70" stroke="#111" stroke-width="1.5" fill="none"/>
<path d="M466.00,99.40L472.80,106.20M472.80,99.40L466.00,106.20" stroke="#111" stroke-width="1.5" fill="none"/>
<path d="M485.00,85.10L491.80,91.90M491.80,85.10L485.00,91.90" stroke="#111" stroke-width="1.5" fill="none"/>
<path d="M503.00,102.10L509.80,108.90M509.80,102.10L503.00,108.90" stroke="#111" stroke-width="1.5" fill="none"/>
<path d="M522.90,105.60L529.70,112.40M529.70,105.60L522.90,112.40" stroke="#111" stroke-width="1.5" fill="none"/>
<path d="M617.80,62.60L624.60,69.40M624.60,62.60L617.80,69.40" stroke="#111" stroke-width="1.5" fill="none"/>
<ellipse cx="450.40" cy="132.4" rx="3.4" ry="1.7" fill="none" stroke="#111" stroke-width="1.0"/>
<rect x="578.10" y="134.10" width="4.6" height="4.6" fill="#fff" stroke="#e3262a" stroke-width="1.3"/>
<path d="M90.90,490.90V518.40" stroke="#111" stroke-width="1.75" fill="none"/><path d="M88.40,490.90H93.40M88.40,518.40H93.40" stroke="#111" stroke-width="1.9" fill="none"/>
<path d="M110.20,484.60V507.80" stroke="#111" stroke-width="1.75" fill="none"/><path d="M107.70,484.60H112.70M107.70,507.80H112.70" stroke="#111" stroke-width="1.9" fill="none"/>
<path d="M129.40,477.60V497.50" stroke="#111" stroke-width="1.75" fill="none"/><path d="M126.90,477.60H131.90M126.90,497.50H131.90" stroke="#111" stroke-width="1.9" fill="none"/>
<path d="M147.00,471.00V487.00" stroke="#111" stroke-width="1.75" fill="none"/><path d="M144.50,471.00H149.50M144.50,487.00H149.50" stroke="#111" stroke-width="1.9" fill="none"/>
<path d="M148.80,470.50V487.60" stroke="#111" stroke-width="1.75" fill="none"/><path d="M146.30,470.50H151.30M146.30,487.60H151.30" stroke="#111" stroke-width="1.9" fill="none"/>
<path d="M168.10,462.80V477.40" stroke="#111" stroke-width="1.75" fill="none"/><path d="M165.60,462.80H170.60M165.60,477.40H170.60" stroke="#111" stroke-width="1.9" fill="none"/>
<path d="M187.30,454.20V469.00" stroke="#111" stroke-width="1.75" fill="none"/><path d="M184.80,454.20H189.80M184.80,469.00H189.80" stroke="#111" stroke-width="1.9" fill="none"/>
<path d="M223.40,435.50V455.90" stroke="#111" stroke-width="1.75" fill="none"/><path d="M220.90,435.50H225.90M220.90,455.90H225.90" stroke="#111" stroke-width="1.9" fill="none"/>
<path d="M264.60,412.40V441.60" stroke="#111" stroke-width="1.75" fill="none"/><path d="M262.10,412.40H267.10M262.10,441.60H267.10" stroke="#111" stroke-width="1.9" fill="none"/>
<path d="M299.10,392.80V430.80" stroke="#111" stroke-width="1.75" fill="none"/><path d="M296.60,392.80H301.60M296.60,430.80H301.60" stroke="#111" stroke-width="1.9" fill="none"/>
<polyline points="90.90,504.50 110.20,496.00 129.40,487.40 147.00,479.20 148.80,478.60 168.10,470.00 187.30,461.40 223.40,445.60 264.60,427.20 299.10,411.80" fill="none" stroke="#111" stroke-width="1.85" stroke-opacity="1.0" stroke-linejoin="round"/>
<circle cx="90.90" cy="504.50" r="2.45" fill="#fff" stroke="#111" stroke-width="1.45"/>
<circle cx="110.20" cy="496.00" r="2.45" fill="#fff" stroke="#111" stroke-width="1.45"/>
<circle cx="129.40" cy="487.40" r="2.45" fill="#fff" stroke="#111" stroke-width="1.45"/>
<circle cx="147.00" cy="479.20" r="2.45" fill="#fff" stroke="#111" stroke-width="1.45"/>
<circle cx="148.80" cy="478.60" r="2.45" fill="#fff" stroke="#111" stroke-width="1.45"/>
<circle cx="168.10" cy="470.00" r="2.45" fill="#fff" stroke="#111" stroke-width="1.45"/>
<circle cx="187.30" cy="461.40" r="2.45" fill="#fff" stroke="#111" stroke-width="1.45"/>
<circle cx="223.40" cy="445.60" r="2.45" fill="#fff" stroke="#111" stroke-width="1.45"/>
<circle cx="264.60" cy="427.20" r="2.45" fill="#fff" stroke="#111" stroke-width="1.45"/>
<circle cx="299.10" cy="411.80" r="2.45" fill="#fff" stroke="#111" stroke-width="1.45"/>
<path d="M450.30,494.50V532.10" stroke="#111" stroke-width="1.75" fill="none"/><path d="M447.80,494.50H452.80M447.80,532.10H452.80" stroke="#111" stroke-width="1.9" fill="none"/>
<path d="M469.30,490.40V522.60" stroke="#111" stroke-width="1.75" fill="none"/><path d="M466.80,490.40H471.80M466.80,522.60H471.80" stroke="#111" stroke-width="1.9" fill="none"/>
<path d="M488.50,486.20V513.10" stroke="#111" stroke-width="1.75" fill="none"/><path d="M486.00,486.20H491.00M486.00,513.10H491.00" stroke="#111" stroke-width="1.9" fill="none"/>
<path d="M505.50,482.00V504.60" stroke="#111" stroke-width="1.75" fill="none"/><path d="M503.00,482.00H508.00M503.00,504.60H508.00" stroke="#111" stroke-width="1.9" fill="none"/>
<path d="M507.30,481.60V505.20" stroke="#111" stroke-width="1.75" fill="none"/><path d="M504.80,481.60H509.80M504.80,505.20H509.80" stroke="#111" stroke-width="1.9" fill="none"/>
<path d="M526.40,475.60V496.40" stroke="#111" stroke-width="1.75" fill="none"/><path d="M523.90,475.60H528.90M523.90,496.40H528.90" stroke="#111" stroke-width="1.9" fill="none"/>
<path d="M545.20,468.70V490.00" stroke="#111" stroke-width="1.75" fill="none"/><path d="M542.70,468.70H547.70M542.70,490.00H547.70" stroke="#111" stroke-width="1.9" fill="none"/>
<path d="M580.40,453.10V480.60" stroke="#111" stroke-width="1.75" fill="none"/><path d="M577.90,453.10H582.90M577.90,480.60H582.90" stroke="#111" stroke-width="1.9" fill="none"/>
<path d="M621.20,432.20V472.10" stroke="#111" stroke-width="1.75" fill="none"/><path d="M618.70,432.20H623.70M618.70,472.10H623.70" stroke="#111" stroke-width="1.9" fill="none"/>
<path d="M655.00,414.20V466.00" stroke="#111" stroke-width="1.75" fill="none"/><path d="M652.50,414.20H657.50M652.50,466.00H657.50" stroke="#111" stroke-width="1.9" fill="none"/>
<polyline points="450.30,513.50 469.30,506.50 488.50,499.90 505.50,493.00 507.30,492.60 526.40,486.00 545.20,479.00 580.40,466.40 621.20,452.10 655.00,440.00" fill="none" stroke="#111" stroke-width="1.85" stroke-opacity="1.0" stroke-linejoin="round"/>
<circle cx="450.30" cy="513.50" r="2.45" fill="#fff" stroke="#111" stroke-width="1.45"/>
<circle cx="469.30" cy="506.50" r="2.45" fill="#fff" stroke="#111" stroke-width="1.45"/>
<circle cx="488.50" cy="499.90" r="2.45" fill="#fff" stroke="#111" stroke-width="1.45"/>
<circle cx="505.50" cy="493.00" r="2.45" fill="#fff" stroke="#111" stroke-width="1.45"/>
<circle cx="507.30" cy="492.60" r="2.45" fill="#fff" stroke="#111" stroke-width="1.45"/>
<circle cx="526.40" cy="486.00" r="2.45" fill="#fff" stroke="#111" stroke-width="1.45"/>
<circle cx="545.20" cy="479.00" r="2.45" fill="#fff" stroke="#111" stroke-width="1.45"/>
<circle cx="580.40" cy="466.40" r="2.45" fill="#fff" stroke="#111" stroke-width="1.45"/>
<circle cx="621.20" cy="452.10" r="2.45" fill="#fff" stroke="#111" stroke-width="1.45"/>
<circle cx="655.00" cy="440.00" r="2.45" fill="#fff" stroke="#111" stroke-width="1.45"/>
<text x="138.00" y="365.00" font-size="16" font-family="Liberation Serif, serif" text-anchor="start" fill="#111" stroke="#111" stroke-width="0.1" textLength="96.00" lengthAdjust="spacingAndGlyphs" >Dose response:</text>
<text x="88.80" y="383.60" font-size="16" font-family="Liberation Serif, serif" text-anchor="start" fill="#111" stroke="#111" stroke-width="0.1" textLength="195.50" lengthAdjust="spacingAndGlyphs" >1.1 mol% per g intake of DHA</text>
<text x="512.80" y="364.90" font-size="16" font-family="Liberation Serif, serif" text-anchor="start" fill="#111" stroke="#111" stroke-width="0.1" textLength="96.00" lengthAdjust="spacingAndGlyphs" >Dose response:</text>
<text x="459.80" y="382.70" font-size="16" font-family="Liberation Serif, serif" text-anchor="start" fill="#111" stroke="#111" stroke-width="0.1" textLength="201.80" lengthAdjust="spacingAndGlyphs" >61 μmol/L per g intake of DHA</text>
</svg>
</body></html>
